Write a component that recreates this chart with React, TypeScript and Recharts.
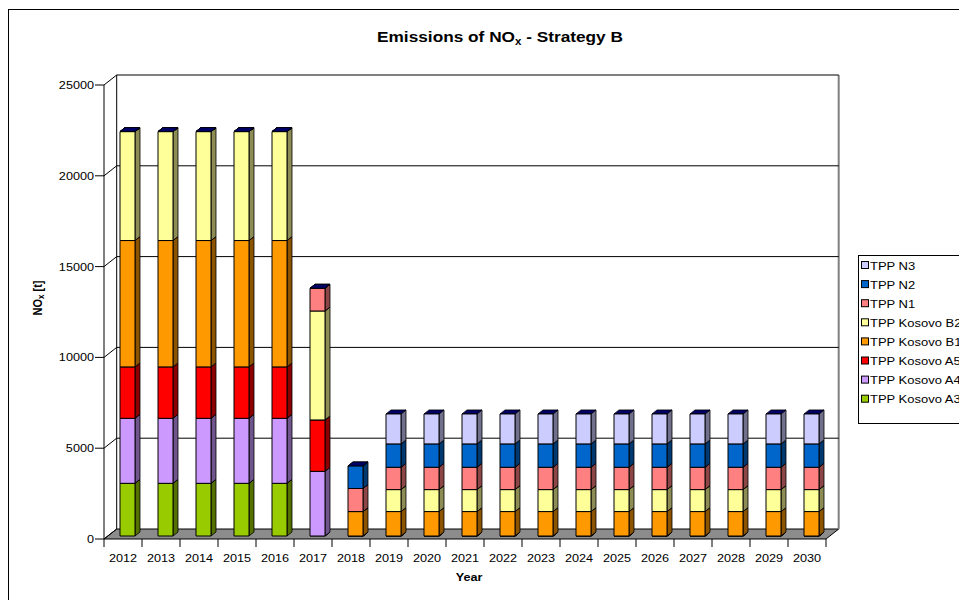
import { BarChart, Bar, XAxis, YAxis, CartesianGrid } from "recharts";

// data (t of NOx per year)
const years = ["2012", "2013", "2014", "2015", "2016", "2017", "2018", "2019", "2020", "2021", "2022", "2023", "2024", "2025", "2026", "2027", "2028", "2029", "2030"];
const kosovoA3 = [2900, 2900, 2900, 2900, 2900, 0, 0, 0, 0, 0, 0, 0, 0, 0, 0, 0, 0, 0, 0];
const kosovoA4 = [3580, 3580, 3580, 3580, 3580, 3560, 0, 0, 0, 0, 0, 0, 0, 0, 0, 0, 0, 0, 0];
const kosovoA5 = [2830, 2830, 2830, 2830, 2830, 2830, 0, 0, 0, 0, 0, 0, 0, 0, 0, 0, 0, 0, 0];
const kosovoB1 = [6960, 6960, 6960, 6960, 6960, 0, 1345, 1345, 1345, 1345, 1345, 1345, 1345, 1345, 1345, 1345, 1345, 1345, 1345];
const kosovoB2 = [6000, 6000, 6000, 6000, 6000, 6000, 0, 1210, 1210, 1210, 1210, 1210, 1210, 1210, 1210, 1210, 1210, 1210, 1210];
const tppN1 = [0, 0, 0, 0, 0, 1250, 1270, 1230, 1230, 1230, 1230, 1230, 1230, 1230, 1230, 1230, 1230, 1230, 1230];
const tppN2 = [0, 0, 0, 0, 0, 0, 1245, 1285, 1285, 1285, 1285, 1285, 1285, 1285, 1285, 1285, 1285, 1285, 1285];
const tppN3 = [0, 0, 0, 0, 0, 0, 0, 1650, 1650, 1650, 1650, 1650, 1650, 1650, 1650, 1650, 1650, 1650, 1650];

const yTicks = [0, 5000, 10000, 15000, 20000, 25000];

// stack order, bottom first
const series = [
  { key: "a3", name: "TPP Kosovo A3", color: "#99CC00", values: kosovoA3 },
  { key: "a4", name: "TPP Kosovo A4", color: "#CC99FF", values: kosovoA4 },
  { key: "a5", name: "TPP Kosovo A5", color: "#FF0000", values: kosovoA5 },
  { key: "b1", name: "TPP Kosovo B1", color: "#FF9900", values: kosovoB1 },
  { key: "b2", name: "TPP Kosovo B2", color: "#FFFF99", values: kosovoB2 },
  { key: "n1", name: "TPP N1", color: "#FF8080", values: tppN1 },
  { key: "n2", name: "TPP N2", color: "#0066CC", values: tppN2 },
  { key: "n3", name: "TPP N3", color: "#CCCCFF", values: tppN3 },
];

const rows = years.map((year, i) => {
  const row: Record<string, string | number> = { year };
  series.forEach((s) => (row[s.key] = s.values[i]));
  return row;
});

const W = 959;
const H = 592;
const MARGIN = { top: 77, right: 141, bottom: 31, left: 36 };
const Y_AXIS_W = 60;
const X_AXIS_H = 30;
const PLOT_L = MARGIN.left + Y_AXIS_W;
const PLOT_R = W - MARGIN.right;
const PLOT_T = MARGIN.top;
const PLOT_B = H - MARGIN.bottom - X_AXIS_H;
const BAND = (PLOT_R - PLOT_L) / years.length;

// fake 3d
const WALL_DX = 12.7;
const WALL_DY = 10;
const BAR_DX = 5;
const BAR_DY = 4;
const BAR_SHIFT_X = 4;
const BAR_SHIFT_Y = -3;

// the original text is a little wide, like a stretched Arial
const FONT = "'Liberation Sans', Arial, sans-serif";
const STRETCH = 1.15;

const shade = (hex: string, k = 0.55) => {
  const n = parseInt(hex.slice(1), 16);
  const r = Math.round(((n >> 16) & 255) * k);
  const g = Math.round(((n >> 8) & 255) * k);
  const b = Math.round((n & 255) * k);
  return `rgb(${r},${g},${b})`;
};

const SText = ({ x, y, anchor = "start", size = 11, bold = false, children }: any) => (
  <text
    transform={`translate(${x} ${y}) scale(${STRETCH} 1)`}
    textAnchor={anchor}
    fontFamily={FONT}
    fontSize={size}
    fontWeight={bold ? "bold" : "normal"}
    fill="#000"
  >
    {children}
  </text>
);

const Walls = () => (
  <g>
    <polygon
      points={`${PLOT_L},${PLOT_B} ${PLOT_R},${PLOT_B} ${PLOT_R + WALL_DX},${PLOT_B - WALL_DY} ${PLOT_L + WALL_DX},${PLOT_B - WALL_DY}`}
      fill="#8c8c8c"
      stroke="#000"
      strokeWidth={1}
    />
    <line x1={PLOT_L + WALL_DX} y1={PLOT_T - WALL_DY} x2={PLOT_L + WALL_DX} y2={PLOT_B - WALL_DY} stroke="#000" />
    <line x1={PLOT_R + WALL_DX} y1={PLOT_T - WALL_DY} x2={PLOT_R + WALL_DX} y2={PLOT_B - WALL_DY} stroke="#808080" strokeWidth={2} />
  </g>
);

const gridLine = (p: any) => {
  const { x1, x2, y1, index } = p;
  return (
    <g key={`grid-${index}`}>
      {index === 0 && <Walls />}
      <line x1={x1} y1={y1} x2={x1 + WALL_DX} y2={y1 - WALL_DY} stroke="#000" />
      {y1 < PLOT_B - 1 && (
        <line x1={x1 + WALL_DX} y1={y1 - WALL_DY} x2={x2 + WALL_DX} y2={y1 - WALL_DY} stroke="#000" />
      )}
    </g>
  );
};

const Box3D = (p: any) => {
  const { x, y, width: w, height: h, fill } = p;
  if (x == null || y == null || !isFinite(h)) return <g />;
  const fx = x + BAR_SHIFT_X;
  const fy = y + BAR_SHIFT_Y;
  return (
    <g strokeLinejoin="round">
      <polygon
        points={`${fx + w},${fy} ${fx + w + BAR_DX},${fy - BAR_DY} ${fx + w + BAR_DX},${fy + h - BAR_DY} ${fx + w},${fy + h}`}
        fill={shade(fill)}
        stroke="#000"
        strokeWidth={0.8}
      />
      <polygon
        points={`${fx},${fy} ${fx + BAR_DX},${fy - BAR_DY} ${fx + w + BAR_DX},${fy - BAR_DY} ${fx + w},${fy}`}
        fill="#000066"
        stroke="#000"
        strokeWidth={0.8}
      />
      <rect x={fx} y={fy} width={w} height={h} fill={fill} stroke="#000" strokeWidth={1} />
    </g>
  );
};

const YTick = (p: any) => (
  <SText x={p.x} y={p.y + 4} anchor="end">
    {p.payload.value}
  </SText>
);

const XTick = (p: any) => {
  const cx = p.x;
  const last = p.index === years.length - 1;
  return (
    <g>
      <line x1={cx - BAND / 2} x2={cx - BAND / 2} y1={PLOT_B} y2={PLOT_B + 8} stroke="#000" />
      {last && <line x1={cx + BAND / 2} x2={cx + BAND / 2} y1={PLOT_B} y2={PLOT_B + 8} stroke="#000" />}
      <SText x={cx} y={PLOT_B + 23} anchor="middle">
        {p.payload.value}
      </SText>
    </g>
  );
};

const legendItems = [...series].reverse();

export default function App() {
  return (
    <div style={{ position: "relative", width: W, height: H, overflow: "hidden", background: "#fff" }}>
      <BarChart width={W} height={H} data={rows} margin={MARGIN} barSize={15}>
        <CartesianGrid horizontal={gridLine} vertical={false} />
        <XAxis dataKey="year" axisLine={false} tickLine={false} tick={XTick} interval={0} height={X_AXIS_H} />
        <YAxis
          domain={[0, 25000]}
          ticks={yTicks}
          interval={0}
          width={Y_AXIS_W}
          tickSize={9}
          tickMargin={1}
          axisLine={{ stroke: "#000" }}
          tickLine={{ stroke: "#000" }}
          tick={YTick}
        />
        {series.map((s) => (
          <Bar key={s.key} dataKey={s.key} name={s.name} stackId="nox" fill={s.color} shape={Box3D} isAnimationActive={false} />
        ))}
      </BarChart>

      <svg width={W} height={H} style={{ position: "absolute", left: 0, top: 0, pointerEvents: "none" }}>
        <rect x={0.5} y={1.5} width={W + 20} height={H + 20} fill="none" stroke="#000" />
        <SText x={492} y={34} anchor="middle" size={15} bold>
          Emissions of NO
          <tspan fontSize={10} dy={3}>x</tspan>
          <tspan dy={-3}> - Strategy B</tspan>
        </SText>
        <text
          transform={`translate(34 290) rotate(-90) scale(1 ${STRETCH})`}
          textAnchor="middle"
          fontFamily={FONT}
          fontSize={11}
          fontWeight="bold"
        >
          NO
          <tspan fontSize={8} dy={2}>x</tspan>
          <tspan dy={-2}> [t]</tspan>
        </text>
        <SText x={461} y={573} anchor="middle" bold>
          Year
        </SText>

        <rect x={850.5} y={247.5} width={200} height={168} fill="#fff" stroke="#000" />
        {legendItems.map((s, i) => {
          const cy = 257 + i * 19.1;
          return (
            <g key={s.key}>
              <rect x={853.5} y={cy - 3.5} width={7} height={7} fill={s.color} stroke="#000" />
              <SText x={862} y={cy + 4.5} size={11.3}>
                {s.name}
              </SText>
            </g>
          );
        })}
      </svg>
    </div>
  );
}
